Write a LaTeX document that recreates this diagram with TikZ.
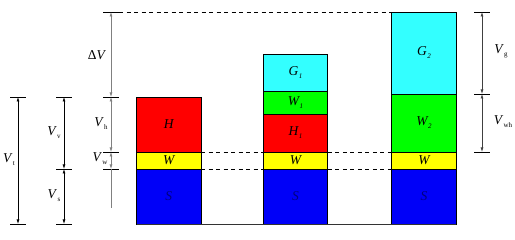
\documentclass[tikz,border=0pt]{standalone}
\usepackage{fontspec}
\setmainfont{Liberation Serif}
\usetikzlibrary{arrows.meta}
\definecolor{cfill}{HTML}{33FFFF}
\definecolor{gfill}{HTML}{00FF00}
\definecolor{rfill}{HTML}{FF0000}
\definecolor{yfill}{HTML}{FFFF00}
\definecolor{bfill}{HTML}{0000F8}
\definecolor{stext}{HTML}{000080}
\definecolor{dimgrey}{HTML}{808080}
\newcommand\lab[2]{\textit{#1}\kern0.3pt\raisebox{-3pt}{\fontsize{7}{7}\selectfont #2}}
\begin{document}
\begin{tikzpicture}[x=1pt,y=-1pt,
  seg/.style={draw=black,line width=0.7pt,inner sep=0pt,outer sep=0pt,minimum width=64.5pt,font=\fontsize{13.5}{13.5}\selectfont\itshape},
  dimline/.style={line width=0.7pt,{Latex[length=4.5pt,width=3pt]}-{Latex[length=4.5pt,width=3pt]}},
  tick/.style={line width=0.7pt,black},
  dashline/.style={line width=0.7pt,dash pattern=on 4pt off 3.5pt},
  dimlab/.style={font=\fontsize{13.5}{13.5}\selectfont,inner sep=1pt}]
\useasboundingbox (0,0) rectangle (515,240);
% bar 1
\node[seg,fill=bfill,minimum height=55pt] (s1) at (168.75,196.5) {\textcolor{stext}{S}};
\node[seg,fill=yfill,minimum height=17pt] (w1) at (168.75,160.5) {W};
\node[seg,fill=rfill,minimum height=55pt] (h1) at (168.75,124.5) {H};
% bar 2
\node[seg,fill=bfill,minimum height=55pt] (s2) at (295.5,196.5) {\textcolor{stext}{S}};
\node[seg,fill=yfill,minimum height=17pt] (w2) at (295.5,160.5) {W};
\node[seg,fill=rfill,minimum height=38pt] (h2) at (295.5,133) {\lab{H}{1}};
\node[seg,fill=gfill,minimum height=23pt] (wa) at (295.5,102.5) {\lab{W}{1}};
\node[seg,fill=cfill,minimum height=37pt] (g1) at (295.5,72.5) {\lab{G}{1}};
% bar 3
\node[seg,fill=bfill,minimum height=55pt] (s3) at (424,196.5) {\textcolor{stext}{S}};
\node[seg,fill=yfill,minimum height=17pt] (w3) at (424,160.5) {W};
\node[seg,fill=gfill,minimum height=58pt] (wb) at (424,123) {\lab{W}{2}};
\node[seg,fill=cfill,minimum height=82pt] (g2) at (424,53) {\lab{G}{2}};
% base line
\draw[line width=0.7pt,black!80] (s1.south west) -- (s3.south east);
% dashed lines
\coordinate (topL) at (119,12);
\draw[dashline] (topL) -- (g2.north west);
\draw[dashline] (w1.north east) -- (w2.north west);
\draw[dashline] (w1.south east) -- (w2.south west);
\draw[dashline] (w2.north east) -- (w3.north west);
\draw[dashline] (w2.south east) -- (w3.south west);
% left dimension Vt
\coordinate (t1) at (18,97); \coordinate (t2) at (18,224);
\draw[tick] (10,97) -- (26,97); \draw[tick] (10,224) -- (26,224);
\draw[dimline] (t1) -- (t2);
\node[dimlab] (lvt) at (9,160) {\lab{V}{t}};
% Vv, Vs
\coordinate (v1) at (64,97); \coordinate (v2) at (64,169); \coordinate (v3) at (64,224);
\draw[tick] (56,97) -- (72,97); \draw[tick] (56,169) -- (72,169); \draw[tick] (56,224) -- (72,224);
\draw[dimline] (v1) -- (v2);
\draw[dimline] (v2) -- (v3);
\node[dimlab] (lvv) at (54,133) {\lab{V}{v}};
\node[dimlab] (lvs) at (54,196) {\lab{V}{s}};
% grey dims
\coordinate (a0) at (111,12); \coordinate (a1) at (111,97); \coordinate (a2) at (111,152);
\coordinate (a3) at (111,169); \coordinate (a4) at (111,208);
\draw[tick] (103,12) -- (119,12); \draw[tick] (103,97) -- (119,97);
\draw[tick] (103,152) -- (119,152); \draw[tick] (103,169) -- (119,169);
\draw[dimline,dimgrey] (a0) -- (a1);
\draw[dimline,dimgrey] (a1) -- (a2);
\draw[dimline,dimgrey] (a2) -- (a3);
\draw[line width=0.7pt,dimgrey] (a3) -- (a4);
\node[dimlab] (ldv) at (97,55) {Δ\textit{V}};
\node[dimlab] (lvh) at (101,124) {\lab{V}{h}};
\node[dimlab] (lvw) at (100,159) {\lab{V}{w}};
% right dims
\coordinate (r0) at (482,12); \coordinate (r1) at (482,94); \coordinate (r2) at (482,152);
\draw[tick] (474,12) -- (490,12); \draw[tick] (474,94) -- (490,94); \draw[tick] (474,152) -- (490,152);
\draw[dimline,black!75] (r0) -- (r1);
\draw[dimline,black!75] (r1) -- (r2);
\node[dimlab] (lvg) at (501,51) {\lab{V}{g}};
\node[dimlab] (lvwh) at (503,122) {\lab{V}{wh}};
\end{tikzpicture}
\end{document}
